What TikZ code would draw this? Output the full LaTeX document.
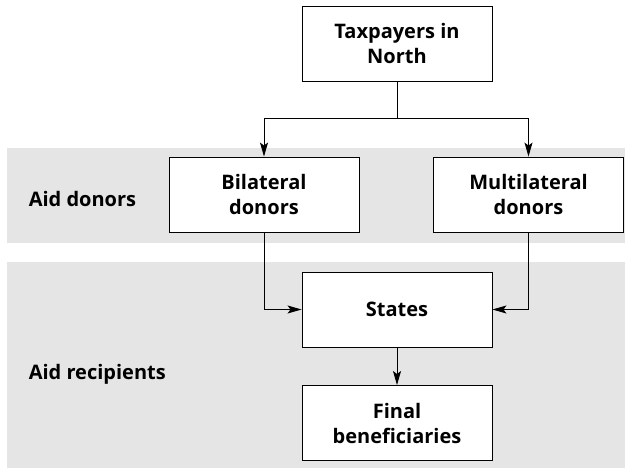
\documentclass[tikz,border=0pt]{standalone}
\usepackage{fontspec}
\setmainfont{Open Sans}
\usepackage{tikz}
\usetikzlibrary{arrows.meta}
\definecolor{band}{rgb}{0.9,0.9,0.9}
\tikzstyle{box}=[draw,fill=white,line width=0.9pt,minimum width=190pt,minimum height=75pt,align=center,font=\bfseries\fontsize{20}{25}\selectfont]
\tikzstyle{lab}=[anchor=west,font=\bfseries\fontsize{20}{25}\selectfont]

\begin{document}
\begin{tikzpicture}[>={Stealth[length=14pt,width=8pt,inset=3pt]},x=1pt,y=1pt,line width=0.9pt]
	\useasboundingbox (0,0) rectangle (625,-468);
	% grey bands
	\fill[band] (7,-148) rectangle (625,-243);
	\fill[band] (7,-262) rectangle (625,-468);
	\node[lab] (donors) at (25,-199) {Aid donors};
	\node[lab] (recip) at (25,-374) {Aid recipients};

	\node[box] (tax) at (397,-44) {Taxpayers in\\North};
	\node[box] (bil) at (264,-194.5) {Bilateral\\donors};
	\node[box] (mul) at (528.5,-194.5) {Multilateral\\donors};
	\node[box] (st) at (397,-309.5) {States};
	\node[box] (fin) at (397,-423) {Final\\beneficiaries};
	\coordinate (split) at (397,-118);

	\draw (tax.south) -- (split);
	\draw[->] (split) -| (bil.north);
	\draw[->] (split) -| (mul.north);
	\draw[->] (bil.south) |- (st.west);
	\draw[->] (mul.south) |- (st.east);
	\draw[->] (st) -- (fin);
\end{tikzpicture}
\end{document}
